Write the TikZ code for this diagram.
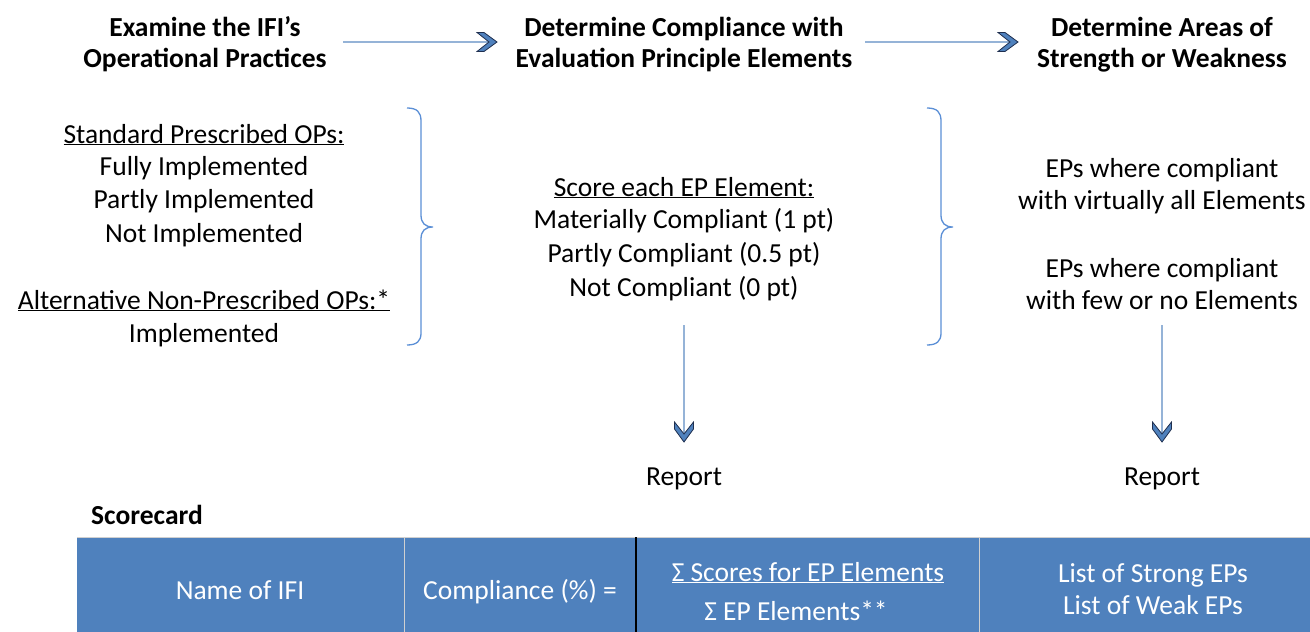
\documentclass[tikz,border=0pt]{standalone}
\usepackage{fontspec}
\setmainfont{Carlito}
\definecolor{tblue}{HTML}{4F81BD}
\definecolor{shaft}{HTML}{95B3D7}
\definecolor{headline}{HTML}{1F2F4F}
\definecolor{bracec}{HTML}{5B8FD6}
\definecolor{lgrey}{HTML}{D0D0D0}
\newcommand{\mfs}{\fontsize{27.5}{33}\selectfont}
\tikzset{
  txt/.style={anchor=base, inner sep=0pt, font=\mfs},
  hd/.style={txt, font=\mfs\bfseries},
  wtxt/.style={txt, text=white},
  shaftline/.style={draw=shaft, line width=1.5pt},
  bracepath/.style={draw=bracec, line width=1.3pt},
  chev/.pic={\filldraw[fill=tblue, draw=headline, line width=0.8pt, line join=miter]
     (-20,-9.5) -- (-13,-9.5) -- (0,0) -- (-13,9.5) -- (-20,9.5) -- (-8,0) -- cycle;}
}
\begin{document}
\begin{tikzpicture}[x=1pt,y=-1pt]
\useasboundingbox (0,0) rectangle (1310,632);
% headers
\node[hd] (h1a) at (205,36) {Examine the IFI’s};
\node[hd] (h1b) at (205,67) {Operational Practices};
\node[hd] (h2a) at (684,36) {Determine Compliance with};
\node[hd] (h2b) at (684,67) {Evaluation Principle Elements};
\node[hd] (h3a) at (1162,36) {Determine Areas of};
\node[hd] (h3b) at (1162,67) {Strength or Weakness};
% horizontal arrows
\coordinate (a1s) at (343,42);
\coordinate (a1e) at (497,42);
\coordinate (a2s) at (865,42);
\coordinate (a2e) at (1018,42);
\draw[shaftline] (a1s) -- (a1e);
\draw[shaftline] (a2s) -- (a2e);
\pic at (a1e) {chev};
\pic at (a2e) {chev};
% left block
\node[txt] (l1) at (204,143) {\underline{Standard Prescribed OPs:}};
\node[txt] (l2) at (204,175) {Fully Implemented};
\node[txt] (l3) at (204,208) {Partly Implemented};
\node[txt] (l4) at (204,242) {Not Implemented};
\node[txt] (l5) at (204,309) {\underline{Alternative Non-Prescribed OPs:*}};
\node[txt] (l6) at (204,342) {Implemented};
% braces
\coordinate (b1) at (433,227);
\coordinate (b2) at (953,227);
\draw[bracepath] (407,108) .. controls (417,108) and (421,112) .. (421,121) -- (421,215) .. controls (421,223) and (425,227) .. (b1) .. controls (425,227) and (421,231) .. (421,239) -- (421,333) .. controls (421,341) and (417,345) .. (407,345);
\draw[bracepath] (927,108) .. controls (937,108) and (941,112) .. (941,121) -- (941,215) .. controls (941,223) and (945,227) .. (b2) .. controls (945,227) and (941,231) .. (941,239) -- (941,333) .. controls (941,341) and (937,345) .. (927,345);
% middle block
\node[txt] (m1) at (684,196) {\underline{Score each EP Element:}};
\node[txt] (m2) at (684,228) {Materially Compliant (1 pt)};
\node[txt] (m3) at (684,262) {Partly Compliant (0.5 pt)};
\node[txt] (m4) at (684,296) {Not Compliant (0 pt)};
% right block
\node[txt] (r1) at (1162,177) {EPs where compliant};
\node[txt] (r2) at (1162,209) {with virtually all Elements};
\node[txt] (r3) at (1162,277) {EPs where compliant};
\node[txt] (r4) at (1162,309) {with few or no Elements};
% down arrows
\node[txt] (rep1) at (684,485) {Report};
\node[txt] (rep2) at (1162,485) {Report};
\coordinate (d1s) at (684,325);
\coordinate (d1e) at (684,442);
\coordinate (d2s) at (1162,325);
\coordinate (d2e) at (1162,442);
\draw[shaftline] (d1s) -- (d1e);
\draw[shaftline] (d2s) -- (d2e);
\pic[rotate=-90] at (d1e) {chev};
\pic[rotate=-90] at (d2e) {chev};
% scorecard
\node[hd, anchor=base west] (sc) at (91,524) {Scorecard};
\fill[tblue] (77,537) rectangle (1310,632);
\draw[lgrey, line width=1pt] (77,537.5) -- (1310,537.5);
\draw[lgrey, line width=1pt] (404,537) -- (404,632);
\draw[black, line width=1.2pt] (636,537) -- (636,632);
\draw[lgrey, line width=1pt] (979,537) -- (979,632);
\node[wtxt] (c1) at (240,599) {Name of IFI};
\node[wtxt] (c2) at (520,599) {Compliance (\%) =};
\node[wtxt] (c3a) at (808,581) {\underline{Σ Scores for EP Elements}};
\node[wtxt] (c3b) at (796,620) {Σ EP Elements**};
\node[wtxt] (c4a) at (1153,582) {List of Strong EPs};
\node[wtxt] (c4b) at (1153,614) {List of Weak EPs};
\end{tikzpicture}
\end{document}
